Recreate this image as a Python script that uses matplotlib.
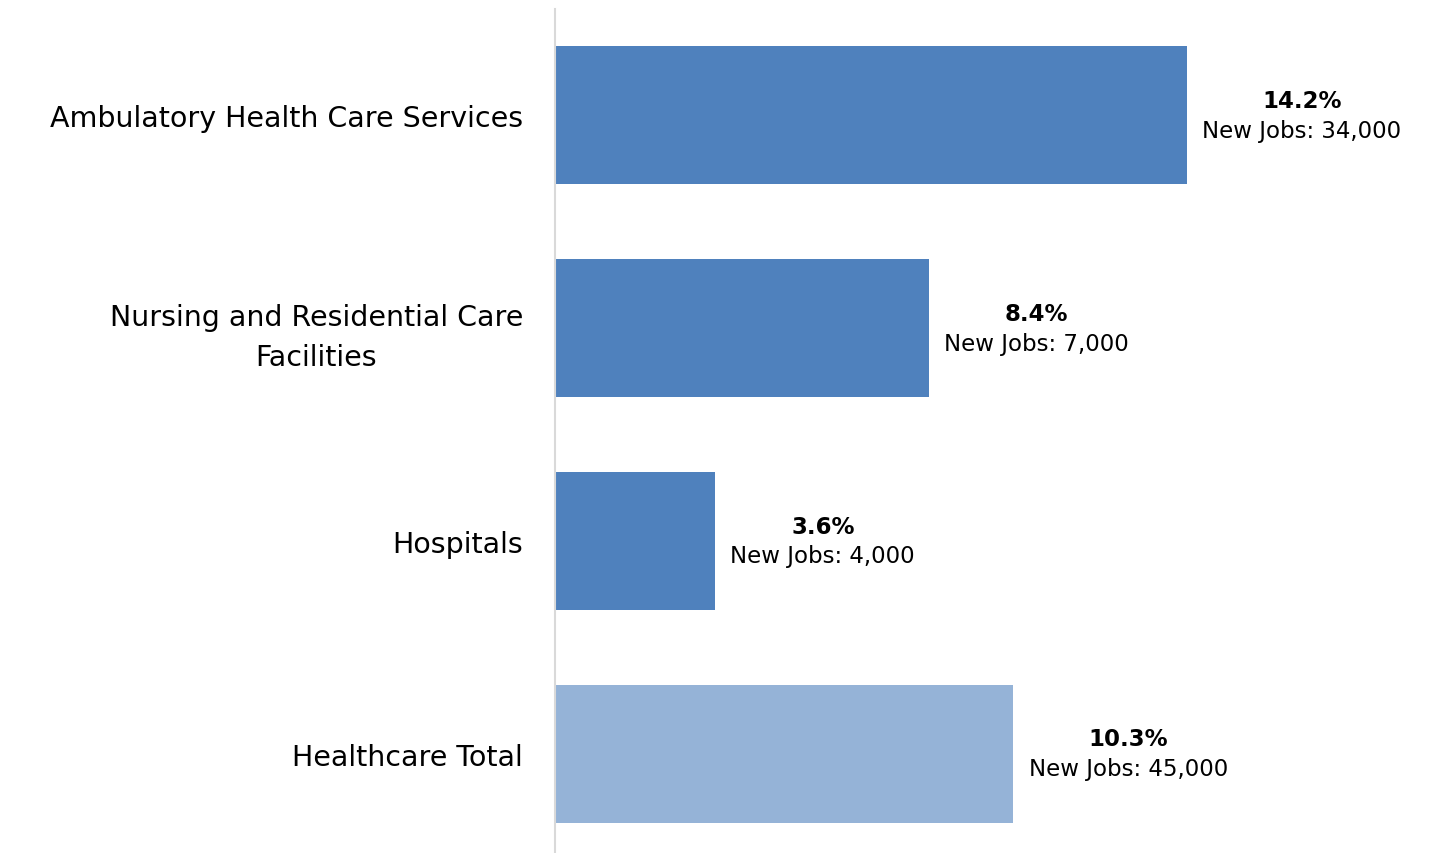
import matplotlib.pyplot as plt
from matplotlib.offsetbox import TextArea, VPacker, AnnotationBbox

# Data
categories = ["Ambulatory Health Care Services",
              "Nursing and Residential Care\nFacilities",
              "Hospitals",
              "Healthcare Total"]
growth_pct = [14.2, 8.4, 3.6, 10.3]
new_jobs = ["34,000", "7,000", "4,000", "45,000"]
bar_colors = ["#4F81BD", "#4F81BD", "#4F81BD", "#95B3D7"]

plt.rcParams["font.family"] = ["DejaVu Sans"]

fig = plt.figure(figsize=(14.33, 8.54), dpi=100)
ax = fig.add_axes([555 / 1433, 0.0, 1 - 555 / 1433, 1 - 10 / 854])

pos = list(range(len(categories)))
ax.barh(pos, growth_pct, height=0.648, color=bar_colors, left=0)

ax.set_xlim(0, 19.73)
ax.set_ylim(3.465, -0.498)

ax.set_yticks(pos)
ax.set_yticklabels(categories, fontsize=20.5, ha="right",
                   multialignment="center", linespacing=1.55)
ax.tick_params(axis="y", length=0, pad=23)
ax.set_xticks([])

for side in ["top", "right", "bottom"]:
    ax.spines[side].set_visible(False)
ax.spines["left"].set_color("#D9D9D9")
ax.spines["left"].set_linewidth(1.5)

# value labels: bold percent above "New Jobs" line
for y, v, jobs in zip(pos, growth_pct, new_jobs):
    top = TextArea(f"{v}%", textprops=dict(fontsize=16.5, fontweight="bold", color="black"))
    bottom = TextArea(f"New Jobs: {jobs}", textprops=dict(fontsize=16.5, color="black"))
    box = VPacker(children=[top, bottom], align="center", pad=0, sep=5)
    ab = AnnotationBbox(box, (v, y), xybox=(11, 0), xycoords="data",
                        boxcoords="offset points", box_alignment=(0, 0.5),
                        frameon=False)
    ax.add_artist(ab)

plt.savefig("out.png", dpi=100)
